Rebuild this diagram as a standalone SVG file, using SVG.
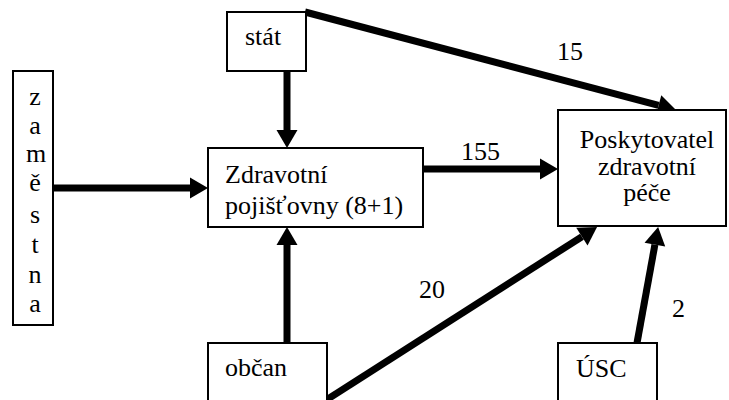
<svg xmlns="http://www.w3.org/2000/svg" width="729" height="400" viewBox="0 0 729 400" font-family="'Liberation Serif', 'Times New Roman', 'DejaVu Serif', serif">
<defs>
<style>
.box{fill:#fff;stroke:#000;stroke-width:2}
.t{font-family:'Liberation Serif','Times New Roman','DejaVu Serif',serif;font-size:26px;fill:#000}
.c{text-anchor:middle}
.ln{stroke:#000;stroke-width:7;fill:none}
</style>
<marker id="ah" markerUnits="userSpaceOnUse" markerWidth="20" markerHeight="22" refX="0" refY="10.5" orient="auto" overflow="visible">
<path d="M0,0 L18,10.5 L0,21 Z" fill="#000"/>
</marker>
</defs>
<rect width="729" height="400" fill="#fff"/>
<g id="connectors">
<line class="ln" x1="287" y1="71" x2="287" y2="130" marker-end="url(#ah)"/>
<line class="ln" x1="53" y1="188" x2="190" y2="188" marker-end="url(#ah)"/>
<line class="ln" x1="423" y1="169" x2="540" y2="169" marker-end="url(#ah)"/>
<line class="ln" x1="305" y1="12" x2="658.6" y2="105.4" marker-end="url(#ah)"/>
<line class="ln" x1="287" y1="343" x2="287" y2="245" marker-end="url(#ah)"/>
<line class="ln" x1="320" y1="404" x2="581.9" y2="236.7" marker-end="url(#ah)"/>
<line class="ln" x1="637" y1="343" x2="654.9" y2="244.7" marker-end="url(#ah)"/>
<text class="t" x="557" y="60">15</text>
<text class="t" x="461" y="160">155</text>
<text class="t" x="419" y="298">20</text>
<text class="t" x="672" y="317">2</text>
</g>
<g id="stat">
<rect class="box" x="227" y="12" width="79" height="59"/>
<text class="t" x="245" y="45">stát</text>
</g>
<g id="zamestnana">
<rect class="box" x="13" y="71" width="40" height="254"/>
<text class="t c" x="35" y="105">z</text>
<text class="t c" x="35" y="134">a</text>
<text class="t c" x="36" y="162">m</text>
<text class="t c" x="35" y="191">ě</text>
<text class="t c" x="35" y="223">s</text>
<text class="t c" x="35" y="253">t</text>
<text class="t c" x="35" y="283">n</text>
<text class="t c" x="35" y="312">a</text>
</g>
<g id="pojistovny">
<rect class="box" x="208" y="148" width="215" height="79"/>
<text class="t" x="225" y="183">Zdravotní</text>
<text class="t" x="225" y="214">pojišťovny (8+1)</text>
</g>
<g id="poskytovatel">
<rect class="box" x="558" y="110" width="168" height="116"/>
<text class="t c" x="647" y="148">Poskytovatel</text>
<text class="t c" x="647" y="175">zdravotní</text>
<text class="t c" x="647" y="201">péče</text>
</g>
<g id="obcan">
<rect class="box" x="208" y="343" width="119" height="70"/>
<text class="t" x="225" y="376">občan</text>
</g>
<g id="usc">
<rect class="box" x="558" y="343" width="99" height="70"/>
<text class="t" x="576" y="377">ÚSC</text>
</g>
</svg>
